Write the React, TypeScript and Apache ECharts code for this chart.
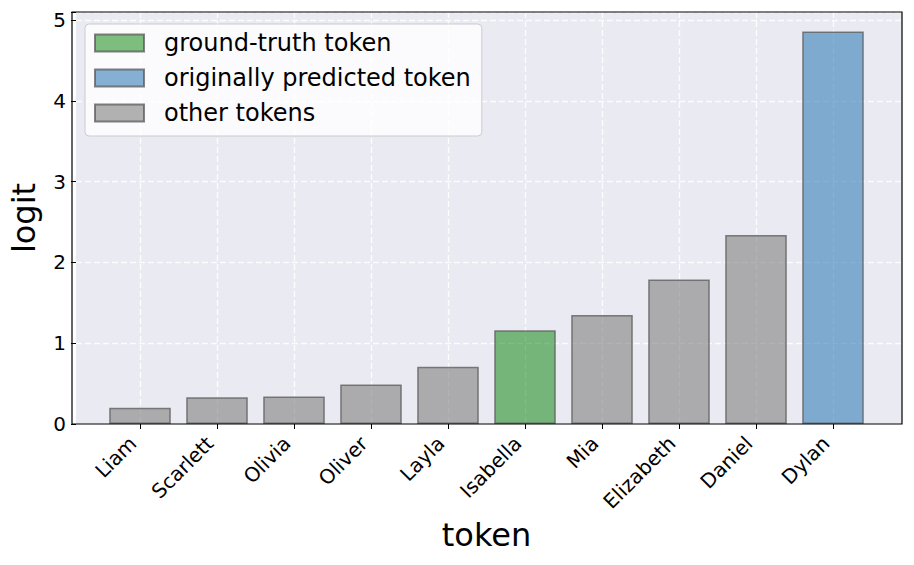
import React, { useEffect, useRef } from "react";
import * as echarts from "echarts";

const tokens = ["Liam", "Scarlett", "Olivia", "Oliver", "Layla", "Isabella", "Mia", "Elizabeth", "Daniel", "Dylan"];
const logits = [0.2, 0.33, 0.34, 0.49, 0.71, 1.16, 1.35, 1.79, 2.34, 4.86];
const groundTruth = "Isabella";
const predicted = "Dylan";
const yTicks = [0, 1, 2, 3, 4, 5];
const legendNames = ["ground-truth token", "originally predicted token", "other tokens"];

const FONT = "DejaVu Sans";

export default function App() {
  const ref = useRef<HTMLDivElement>(null);
  useEffect(() => {
    if (!ref.current) return;
    const chart = echarts.init(ref.current, undefined, { renderer: "svg" });
    const roleOf = (t: string) => (t === groundTruth ? 0 : t === predicted ? 1 : 2);
    const colors = ["rgba(0,128,0,0.5)", "rgba(55,126,184,0.6)", "rgba(128,128,128,0.6)"];
    const series = legendNames.map((name, k) => ({
      name,
      type: "bar",
      xAxisIndex: 1,
      yAxisIndex: 1,
      stack: "all",
      barWidth: "80%",
      itemStyle: { color: colors[k], borderColor: "rgba(90,90,90,0.75)", borderWidth: 1.5 },
      data: tokens.map((t, i) => (roleOf(t) === k ? logits[i] : "-")),
    }));
    const gridLine = { show: true, lineStyle: { color: "rgba(255,255,255,0.85)", width: 1.4, type: [6, 3] } };
    const yMax = 5.1;
    const plotL = 72, plotT = 12, plotW = 830, plotH = 412;
    const band = 77;
    const firstCenter = 140;
    chart.setOption({
      animation: false,
      textStyle: { fontFamily: FONT },
      grid: [
        { left: plotL, top: plotT, width: plotW, height: plotH, show: true, backgroundColor: "#eaeaf2", borderWidth: 0, z: 0 },
        { left: firstCenter - band / 2, top: plotT, width: band * tokens.length, height: plotH, show: false },
        { left: firstCenter, top: plotT, width: band * (tokens.length - 1), height: plotH, show: false },
      ],
      xAxis: [
        { type: "value", gridIndex: 0, min: 0, max: 1, show: false },
        {
          type: "category",
          gridIndex: 1,
          data: tokens,
          name: "token",
          nameLocation: "middle",
          nameGap: 95,
          nameTextStyle: { fontFamily: FONT, fontSize: 32, color: "#000" },
          axisLine: { show: false },
          axisTick: { show: true, alignWithLabel: true, length: 5, lineStyle: { color: "#000", width: 1 } },
          axisLabel: {
            rotate: 45,
            fontFamily: FONT,
            fontSize: 20,
            color: "#000",
            margin: 23,
            interval: 0,
            align: "right",
            verticalAlign: "bottom",
          },
          splitLine: { show: false },
        },
        {
          type: "category",
          gridIndex: 2,
          data: tokens,
          boundaryGap: false,
          axisLine: { show: false },
          axisTick: { show: false },
          axisLabel: { show: false },
          splitLine: { ...gridLine, interval: 0 },
        },
      ],
      yAxis: [
        {
          type: "value",
          gridIndex: 0,
          min: 0,
          max: yMax,
          interval: 1,
          name: "logit",
          nameLocation: "middle",
          nameGap: 36,
          nameTextStyle: { fontFamily: FONT, fontSize: 32, color: "#000" },
          axisLine: { show: false },
          axisTick: { show: true, length: 5, lineStyle: { color: "#000" } },
          axisLabel: {
            fontFamily: FONT,
            fontSize: 20,
            color: "#000",
            margin: 10,
            formatter: (v: number) => (yTicks.includes(v) ? String(v) : ""),
          },
          splitLine: gridLine,
        },
        { type: "value", gridIndex: 1, min: 0, max: yMax, show: false },
        { type: "value", gridIndex: 2, min: 0, max: yMax, show: false },
      ],
      legend: {
        orient: "vertical",
        left: 85,
        top: 24,
        data: legendNames,
        itemWidth: 49,
        itemHeight: 17,
        itemGap: 11,
        icon: "rect",
        padding: [7, 11, 11, 9],
        backgroundColor: "rgba(255,255,255,0.8)",
        borderColor: "#cccccc",
        borderWidth: 1,
        borderRadius: 4,
        textStyle: { fontFamily: FONT, fontSize: 24, color: "#000", lineHeight: 24, padding: [0, 0, 0, 15] },
      },
      graphic: [
        {
          type: "rect",
          z: 100,
          silent: true,
          shape: { x: plotL, y: plotT, width: plotW, height: plotH },
          style: { fill: "none", stroke: "#000", lineWidth: 1.2 },
        },
      ],
      series,
    });
    return () => chart.dispose();
  }, []);
  return <div ref={ref} style={{ width: 914, height: 565, position: "absolute", left: 0, top: 0 }} />;
}
